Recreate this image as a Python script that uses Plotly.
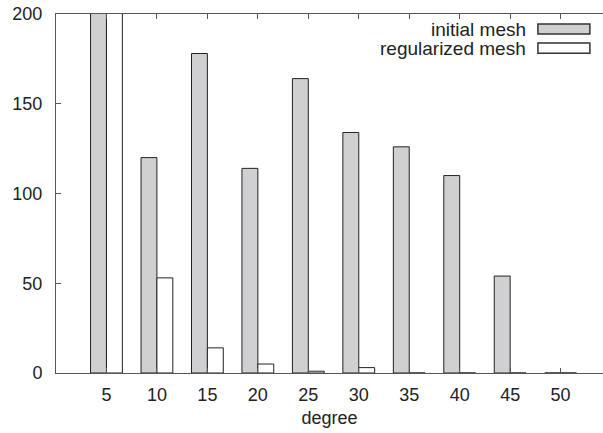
import plotly.graph_objects as go

# Degree bins and counts per mesh
degrees = ["5", "10", "15", "20", "25", "30", "35", "40", "45", "50"]
initial_mesh = [260, 120, 178, 114, 164, 134, 126, 110, 54, 0]
regularized_mesh = [240, 53, 14, 5, 1, 3, 0, 0, 0, 0]

series_names = ["initial mesh", "regularized mesh"]
fills = ["#d0d0d2", "#ffffff"]

fig = go.Figure()
for name, vals, fill in zip(series_names, [initial_mesh, regularized_mesh], fills):
    fig.add_trace(go.Bar(
        x=degrees, y=vals, name=name,
        marker=dict(color=fill, line=dict(color="#222222", width=1)),
        showlegend=False,
    ))

axis_font = dict(family="Liberation Sans, Arial, sans-serif", size=18, color="#222222")
legend_font = dict(family="Liberation Sans, Arial, sans-serif", size=19, color="#222222")

fig.update_layout(
    width=603, height=433,
    margin=dict(l=56, r=0, t=14, b=60),
    paper_bgcolor="white", plot_bgcolor="white",
    barmode="group", bargap=0.37, bargroupgap=0,
    font=axis_font,
    xaxis=dict(
        type="category", range=[-1, 9.84],
        showline=True, linecolor="#555555", linewidth=1, mirror="ticks",
        ticks="inside", ticklen=5, tickcolor="#555555",
        showgrid=False, zeroline=False, ticklabelstandoff=5,
        title=dict(text="degree", font=axis_font, standoff=7),
    ),
    yaxis=dict(
        range=[0, 200], tickvals=[0, 50, 100, 150, 200],
        showline=True, linecolor="#555555", linewidth=1, mirror=False,
        ticks="inside", ticklen=5, tickcolor="#555555",
        showgrid=False, zeroline=False, ticklabelstandoff=9,
    ),
)

# Legend block in the upper right: label text followed by a sample swatch
legend_rows = [(0.958, series_names[0], fills[0]), (0.905, series_names[1], fills[1])]
for ypos, label, fill in legend_rows:
    fig.add_annotation(
        xref="paper", yref="paper", x=0.862, y=ypos,
        text=label, showarrow=False, xanchor="right", yanchor="middle",
        font=legend_font,
    )
    fig.add_shape(
        type="rect", xref="paper", yref="paper",
        x0=0.881, x1=0.976, y0=ypos - 0.014, y1=ypos + 0.014,
        fillcolor=fill, line=dict(color="#333333", width=1.5),
    )

fig.write_html("out.html")
